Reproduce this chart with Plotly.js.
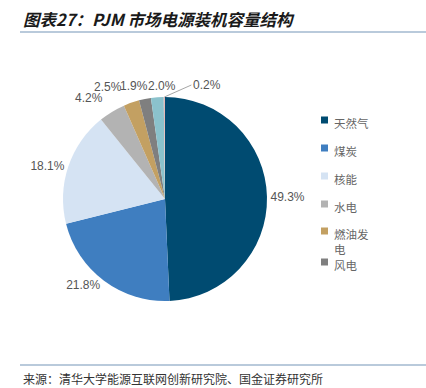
<!DOCTYPE html>
<html>
<head>
<meta charset="utf-8">
<script src="https://cdn.plot.ly/plotly-3.0.1.min.js"></script>
<style>
body{margin:0;padding:0;background:#fff;}
#chart{width:426px;height:388px;}
</style>
</head>
<body>
<div id="chart"></div>
<script>
const categories = ['天然气','煤炭','核能','水电','燃油发电','风电','太阳能','其他'];
const shares = [49.3, 21.8, 18.1, 4.2, 2.5, 1.9, 2.0, 0.2];
const legendLabels = ['天然气','煤炭','核能','水电','燃油发<br>电','风电'];
const titleText = '图表27：PJM 市场电源装机容量结构';
const sourceText = '来源：清华大学能源互联网创新研究院、国金证券研究所';

// styles
const colors = ['#004B71','#3F7EC0','#D5E3F3','#B3B3B3','#C3A062','#7F7F7F','#8BC2CC','#E6B8B7'];
// label offsets (px) for the small slices, relative to the slice's rim midpoint
const smallLabelShift = {3: [-23, -14], 4: [-23, -16], 5: [-11, -13], 6: [5, -11]};
const tinyArrow = {7: [27, -12]};

const W = 426, H = 388;
const px = (x) => x / W;
const py = (y) => 1 - y / H;
const pieBox = {x0: 63, x1: 267, y0: 97, y1: 301};
const cx = (pieBox.x0 + pieBox.x1) / 2, cy = (pieBox.y0 + pieBox.y1) / 2;
const R = (pieBox.x1 - pieBox.x0) / 2;

const pctText = shares.map(v => v >= 5 ? v.toFixed(1) + '%' : '');
const labelFont = {family: 'Liberation Sans, Arial, sans-serif', size: 12, color: '#555555'};

const trace = {
  type: 'pie',
  labels: categories,
  values: shares,
  text: pctText,
  textinfo: 'text',
  sort: false,
  direction: 'clockwise',
  rotation: 0,
  marker: {colors: colors, line: {width: 0}},
  textposition: 'outside',
  textfont: labelFont,
  outsidetextfont: labelFont,
  showlegend: false,
  automargin: false,
  domain: {x: [px(pieBox.x0), px(pieBox.x1)], y: [py(pieBox.y1), py(pieBox.y0)]}
};

const annotations = [
  {text: '<b><i>' + titleText + '</i></b>', x: px(21), y: py(19), xref: 'paper', yref: 'paper',
   xanchor: 'left', yanchor: 'middle', showarrow: false,
   font: {family: 'Noto Sans CJK SC, sans-serif', size: 16.5, color: '#1A1A1A'}},
  {text: sourceText, x: px(21), y: py(378), xref: 'paper', yref: 'paper',
   xanchor: 'left', yanchor: 'middle', showarrow: false,
   font: {family: 'Noto Sans CJK SC, sans-serif', size: 12, color: '#333333'}}
];
const shapes = [
  {type: 'line', xref: 'paper', yref: 'paper', x0: px(20), x1: 1, y0: py(32), y1: py(32),
   line: {color: '#B9CADB', width: 2}},
  {type: 'line', xref: 'paper', yref: 'paper', x0: px(20), x1: 1, y0: py(365), y1: py(365),
   line: {color: '#B9CADB', width: 2}}
];
const legendY = [120, 148, 176, 204, 231, 262];
legendLabels.forEach((lab, i) => {
  const y = legendY[i];
  shapes.push({type: 'rect', xref: 'paper', yref: 'paper',
    x0: px(321), x1: px(328), y0: py(y + 3.5), y1: py(y - 3.5),
    fillcolor: colors[i], line: {width: 0}});
  annotations.push({text: lab, x: px(332), y: py(y - 7), xref: 'paper', yref: 'paper',
    xanchor: 'left', yanchor: 'top', align: 'left', showarrow: false,
    font: {family: 'Noto Sans CJK SC, sans-serif', size: 11.5, color: '#666666'}});
});

// small-slice labels anchored at the slice rim midpoint computed from the data
const total = shares.reduce((a, b) => a + b, 0);
let cum = 0;
shares.forEach((v, i) => {
  const mid = (cum + v / 2) / total * 2 * Math.PI;
  cum += v;
  const rx = cx + R * Math.sin(mid), ry = cy - R * Math.cos(mid);
  const txt = v.toFixed(1) + '%';
  if (smallLabelShift[i]) {
    const [dx, dy] = smallLabelShift[i];
    annotations.push({text: txt, x: px(rx), y: py(ry), xref: 'paper', yref: 'paper',
      xanchor: 'center', yanchor: 'middle', showarrow: false, xshift: dx, yshift: -dy,
      font: labelFont});
  } else if (tinyArrow[i]) {
    const [ax, ay] = tinyArrow[i];
    annotations.push({text: txt, x: px(rx), y: py(ry), xref: 'paper', yref: 'paper',
      xanchor: 'left', yanchor: 'middle', showarrow: true, arrowhead: 0, arrowwidth: 1,
      arrowcolor: '#A6A6A6', ax: ax, ay: ay, standoff: 0, font: labelFont});
  }
});

const layout = {
  width: W, height: H,
  margin: {l: 0, r: 0, t: 0, b: 0},
  paper_bgcolor: '#ffffff',
  showlegend: false,
  annotations: annotations,
  shapes: shapes
};

Plotly.newPlot('chart', [trace], layout, {displayModeBar: false, staticPlot: true});
</script>
</body>
</html>
